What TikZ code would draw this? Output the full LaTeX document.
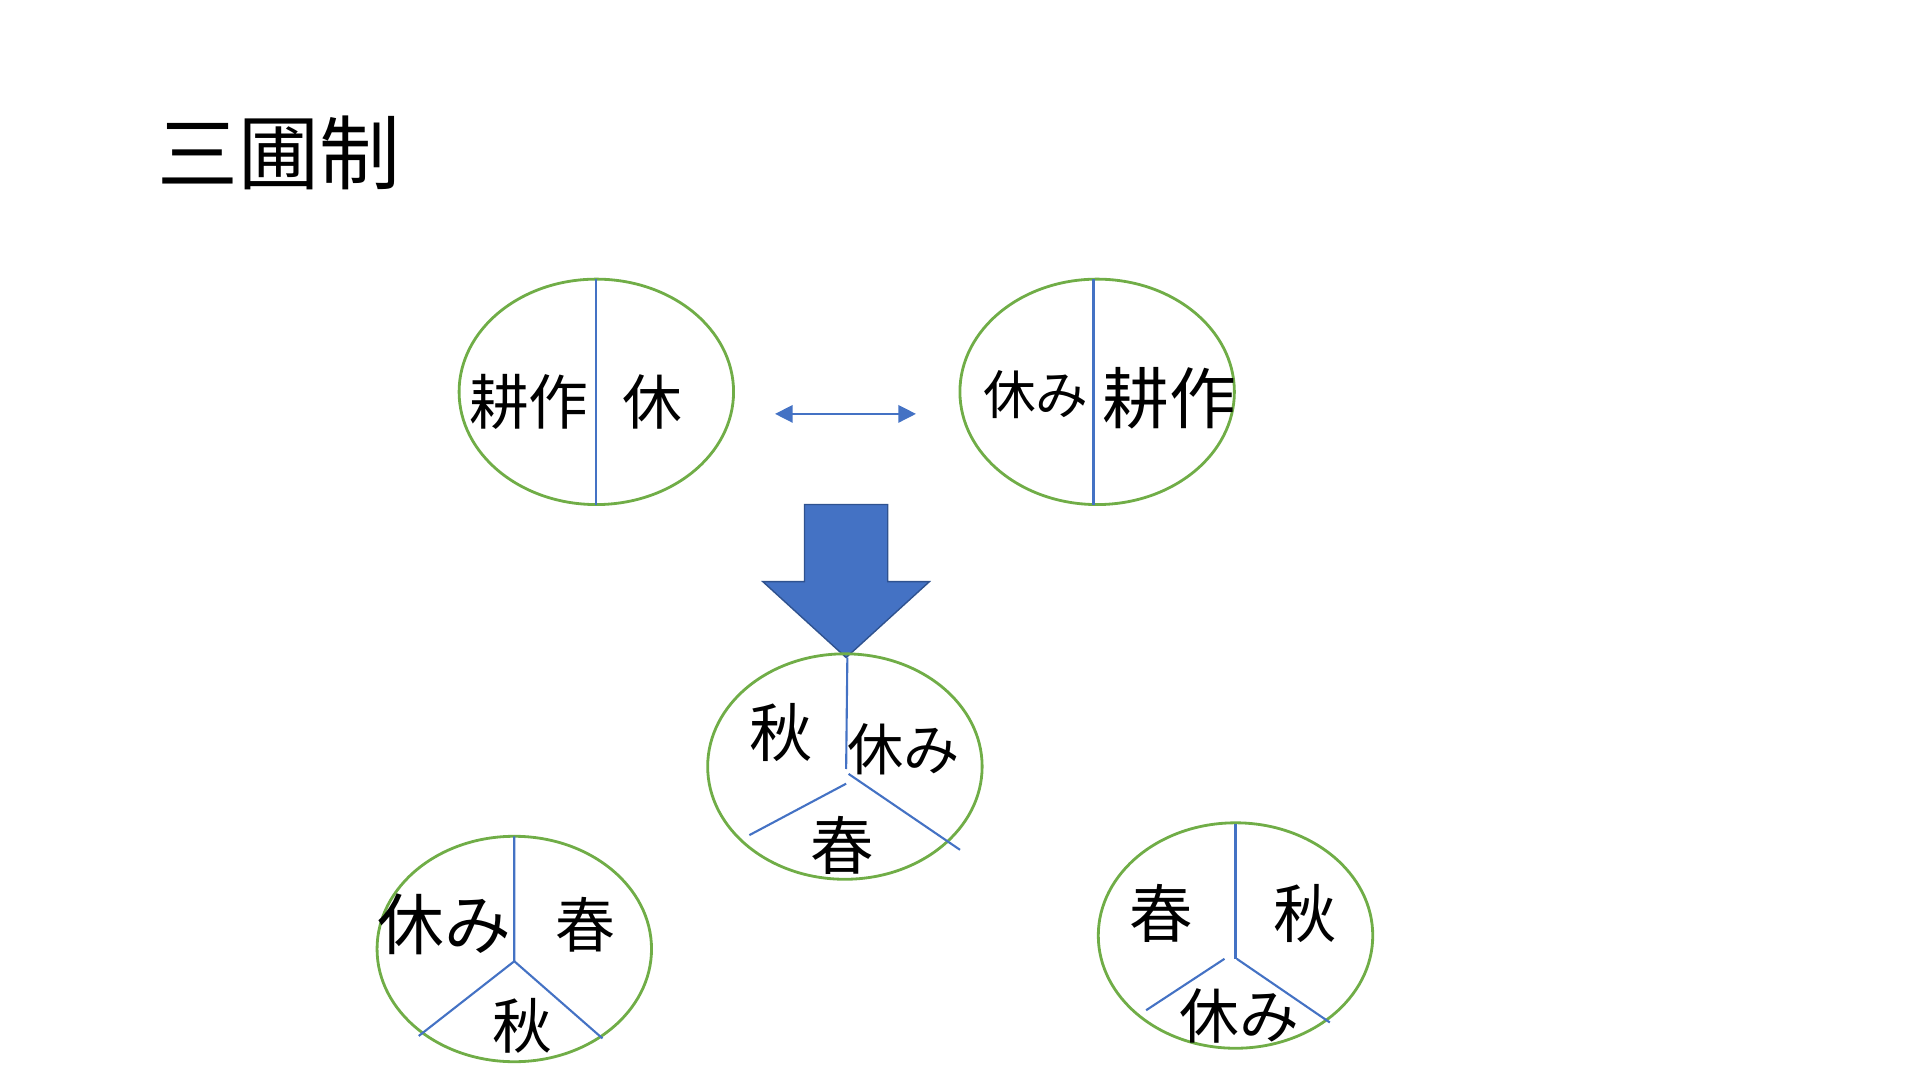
\documentclass[tikz,border=0pt]{standalone}
\usepackage{fontspec}
\setmainfont{Noto Sans CJK JP}
\usetikzlibrary{arrows.meta,positioning,shapes.geometric}
\definecolor{fieldgreen}{RGB}{112,173,71}
\definecolor{lineblue}{RGB}{68,114,196}
\definecolor{edgeblue}{RGB}{47,82,143}
\tikzset{
    field/.style={ellipse,draw=fieldgreen,thick,minimum width=2.743cm,minimum height=2.253cm,inner sep=0pt},
    divide/.style={draw=lineblue,semithick},
    lbl/.style={inner sep=0pt}
}
\newcommand{\fsz}[1]{\fontsize{#1}{#1}\selectfont}
\begin{document}
\begin{tikzpicture}[x=0.012245cm,y=-0.012245cm]
\useasboundingbox (0,0) rectangle (1568,882);
\node[lbl] (title) at (228,125) {\fsz{23pt}三圃制};
% two-field system
\node[field] (f1) at (487,320) {};
\coordinate (f1t) at (487,228); \coordinate (f1b) at (487,412);
\draw[divide] (f1t) -- (f1b);
\node[lbl] (f1a) at (432,328) {\fsz{17pt}耕作};
\node[lbl] (f1c) at (533,328) {\fsz{17pt}休};
\node[field] (f2) at (896,320) {};
\coordinate (f2t) at (893,228); \coordinate (f2b) at (893,412);
\draw[divide] (f2t) -- (f2b);
\node[lbl] (f2a) at (846,322) {\fsz{15pt}休み};
\node[lbl] (f2c) at (955,325) {\fsz{19pt}耕作};
\coordinate (swl) at (633,338); \coordinate (swr) at (748,338);
\draw[lineblue,{Triangle[length=5pt,width=5pt]}-{Triangle[length=5pt,width=5pt]}] (swl) -- (swr);
% block arrow
\draw[fill=lineblue,draw=edgeblue] (657,412) -- (725,412) -- (725,475) -- (759,475)
  -- (691,537) -- (623,475) -- (657,475) -- cycle;
% three-field system
\node[field] (f3) at (690,626) {};
\coordinate (f3t) at (692,537); \coordinate (f3m) at (691,628);
\coordinate (f3l) at (612,682); \coordinate (f3r) at (784,694);
\draw[divide] (f3t) -- (f3m);
\draw[divide] (691,640) -- (f3l);
\draw[divide] (693,632) -- (f3r);
\node[lbl] (f3a) at (638,598) {\fsz{18pt}秋};
\node[lbl] (f3b) at (738,612) {\fsz{16pt}休み};
\node[lbl] (f3c) at (688,690) {\fsz{18pt}春};
\node[field] (f4) at (420,775) {};
\coordinate (f4t) at (420,683); \coordinate (f4m) at (420,785);
\coordinate (f4l) at (342,846); \coordinate (f4r) at (492,848);
\draw[divide] (f4t) -- (f4m) -- (f4l);
\draw[divide] (f4m) -- (f4r);
\node[lbl] (f4a) at (363,755) {\fsz{19pt}休み};
\node[lbl] (f4b) at (478,755) {\fsz{17pt}春};
\node[lbl] (f4c) at (427,838) {\fsz{17pt}秋};
\node[field] (f5) at (1009,764) {};
\coordinate (f5t) at (1009,673); \coordinate (f5m) at (1009,783);
\coordinate (f5l) at (936,825); \coordinate (f5r) at (1086,835);
\draw[divide] (f5t) -- (f5m);
\draw[divide] (1000,783) -- (f5l);
\draw[divide] (1010,783) -- (f5r);
\node[lbl] (f5a) at (948,746) {\fsz{18pt}春};
\node[lbl] (f5b) at (1066,746) {\fsz{18pt}秋};
\node[lbl] (f5c) at (1012,830) {\fsz{17pt}休み};
\end{tikzpicture}
\end{document}
